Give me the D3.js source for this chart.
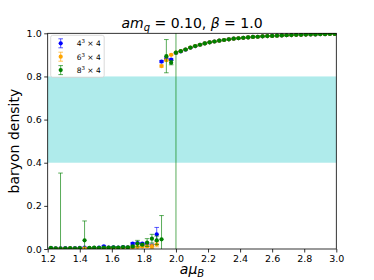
<!DOCTYPE html>
<html>
<head>
<meta charset="utf-8">
<script src="https://cdn.jsdelivr.net/npm/d3@7"></script>
<style>
  body { margin: 0; background: #fff; }
  svg { font-family: "DejaVu Sans", sans-serif; }
</style>
</head>
<body>
<svg id="chart" width="374" height="280"></svg>
<script>
// chemical potential grid (a mu_B)
var muValues = [1.22,1.25,1.28,1.31,1.34,1.37,1.40,1.43,1.46,1.49,1.52,1.55,1.58,1.61,1.64,1.67,1.70,1.73,1.76,1.79,
    1.82,1.85,1.88,1.91,1.94,1.97,2.00,2.03,2.06,2.09,2.12,2.15,2.18,2.21,2.24,2.27,2.30,2.33,2.36,2.39,
    2.42,2.45,2.48,2.51,2.54,2.57,2.60,2.63,2.66,2.69,2.72,2.75,2.78,2.81,2.84,2.87,2.90,2.93,2.96,2.99];

// 4^3 x 4
var density4 = [0.004,0.003,0.003,0.004,0.003,0.004,0.005,0.006,0.004,0.005,0.006,0.012,0.006,0.008,0.007,0.009,0.008,0.025,0.027,0.025,
    0.024,0.016,0.068,0.869,0.882,0.878,0.909,0.916,0.924,0.933,0.940,0.947,0.953,0.958,0.962,0.966,0.969,0.972,0.975,0.977,
    0.979,0.981,0.983,0.984,0.986,0.987,0.988,0.989,0.990,0.991,0.992,0.993,0.993,0.994,0.995,0.995,0.996,0.996,0.997,0.997];
var error4 = [0.002,0.002,0.002,0.002,0.002,0.002,0.002,0.002,0.002,0.002,0.002,0.004,0.002,0.003,0.002,0.003,0.003,0.005,0.004,0.004,
    0.004,0.006,0.032,0.005,0.004,0.004,0.002,0.002,0.002,0.002,0.002,0.002,0.002,0.002,0.002,0.002,0.002,0.002,0.002,0.002,
    0.002,0.002,0.002,0.002,0.002,0.002,0.002,0.002,0.002,0.002,0.002,0.002,0.002,0.002,0.002,0.002,0.002,0.002,0.002,0.002];

// 6^3 x 4
var density6 = [0.002,0.002,0.002,0.002,0.003,0.002,0.003,0.003,0.003,0.004,0.003,0.004,0.005,0.004,0.005,0.004,0.006,0.008,0.010,0.012,
    0.013,0.012,0.022,0.848,0.875,0.900,0.910,0.917,0.925,0.934,0.941,0.947,0.953,0.958,0.962,0.966,0.969,0.972,0.975,0.977,
    0.979,0.981,0.983,0.984,0.986,0.987,0.988,0.989,0.990,0.991,0.992,0.993,0.993,0.994,0.995,0.995,0.996,0.996,0.997,0.997];
var error6 = [0.002,0.002,0.002,0.002,0.002,0.002,0.002,0.002,0.002,0.002,0.002,0.002,0.002,0.002,0.002,0.002,0.003,0.004,0.004,0.005,
    0.005,0.010,0.012,0.005,0.004,0.003,0.002,0.002,0.002,0.002,0.002,0.002,0.002,0.002,0.002,0.002,0.002,0.002,0.002,0.002,
    0.002,0.002,0.002,0.002,0.002,0.002,0.002,0.002,0.002,0.002,0.002,0.002,0.002,0.002,0.002,0.002,0.002,0.002,0.002,0.002];

// 8^3 x 4
var density8 = [0.005,0.003,0.002,0.003,0.004,0.003,0.004,0.040,0.005,0.006,0.005,0.006,0.007,0.008,0.007,0.009,0.008,0.012,0.025,0.020,
    0.030,0.048,0.040,0.045,0.894,0.864,0.910,0.917,0.925,0.934,0.941,0.947,0.953,0.958,0.962,0.966,0.969,0.972,0.975,0.977,
    0.979,0.981,0.983,0.984,0.986,0.987,0.988,0.989,0.990,0.991,0.992,0.993,0.993,0.994,0.995,0.995,0.996,0.996,0.997,0.997];
var error8 = [0.002,0.002,0.350,0.002,0.002,0.002,0.002,0.090,0.002,0.002,0.002,0.002,0.002,0.002,0.002,0.002,0.002,0.004,0.015,0.004,
    0.018,0.020,0.020,0.110,0.077,0.010,1.500,0.002,0.002,0.002,0.002,0.002,0.002,0.002,0.002,0.002,0.002,0.002,0.002,0.002,
    0.002,0.002,0.002,0.002,0.002,0.002,0.002,0.002,0.002,0.002,0.002,0.002,0.002,0.002,0.002,0.002,0.002,0.002,0.002,0.002];

var seriesLabels = ['4', '6', '8'];
var seriesColors = ['#0000ff', '#ffa500', '#008000'];
var bandRange = [0.4, 0.8];
var xTicks = [1.2,1.4,1.6,1.8,2.0,2.2,2.4,2.6,2.8,3.0];
var yTicks = [0.0,0.2,0.4,0.6,0.8,1.0];

var series = [
    {label: seriesLabels[0], color: seriesColors[0], y: density4, err: error4},
    {label: seriesLabels[1], color: seriesColors[1], y: density6, err: error6},
    {label: seriesLabels[2], color: seriesColors[2], y: density8, err: error8}
];

var svg = d3.select('#chart');
var plot = {left: 47.7, right: 336.3, top: 33.3, bottom: 249};

var x = d3.scaleLinear().domain([1.2, 3.0]).range([plot.left, plot.right]);
var y = d3.scaleLinear().domain([0, 1]).range([plot.bottom, plot.top]);

svg.append('defs').append('clipPath').attr('id', 'clip')
    .append('rect')
    .attr('x', plot.left).attr('y', plot.top)
    .attr('width', plot.right - plot.left).attr('height', plot.bottom - plot.top);

// shaded band
svg.append('rect')
    .attr('x', plot.left)
    .attr('y', y(bandRange[1]))
    .attr('width', plot.right - plot.left)
    .attr('height', y(bandRange[0]) - y(bandRange[1]))
    .attr('fill', '#afebeb');

var data = svg.append('g').attr('clip-path', 'url(#clip)');
var cap = 2.3;

series.forEach(function(s) {
    var pts = muValues.map(function(m, i) { return {x: m, y: s.y[i], e: s.err[i]}; });
    var g = data.append('g');
    var bars = g.selectAll('.err').data(pts).enter().append('g')
        .attr('stroke', s.color)
        .attr('stroke-opacity', 0.65)
        .attr('stroke-width', 1);
    bars.append('line')
        .attr('x1', function(d) { return x(d.x); })
        .attr('x2', function(d) { return x(d.x); })
        .attr('y1', function(d) { return y(d.y - d.e); })
        .attr('y2', function(d) { return y(d.y + d.e); });
    bars.append('line')
        .attr('x1', function(d) { return x(d.x) - cap; })
        .attr('x2', function(d) { return x(d.x) + cap; })
        .attr('y1', function(d) { return y(d.y + d.e); })
        .attr('y2', function(d) { return y(d.y + d.e); });
    bars.append('line')
        .attr('x1', function(d) { return x(d.x) - cap; })
        .attr('x2', function(d) { return x(d.x) + cap; })
        .attr('y1', function(d) { return y(d.y - d.e); })
        .attr('y2', function(d) { return y(d.y - d.e); });
    g.selectAll('circle').data(pts).enter().append('circle')
        .attr('cx', function(d) { return x(d.x); })
        .attr('cy', function(d) { return y(d.y); })
        .attr('r', 2.1)
        .attr('fill', s.color);
});

// axes
var xAxis = svg.append('g')
    .attr('transform', 'translate(0,' + plot.bottom + ')')
    .call(d3.axisBottom(x).tickValues(xTicks).tickFormat(d3.format('.1f')).tickSize(3.5).tickPadding(2.5));
var yAxis = svg.append('g')
    .attr('transform', 'translate(' + plot.left + ',0)')
    .call(d3.axisLeft(y).tickValues(yTicks).tickFormat(d3.format('.1f')).tickSize(3.5).tickPadding(2.5));
[xAxis, yAxis].forEach(function(a) {
    a.select('.domain').remove();
    a.selectAll('text').attr('font-size', '9.5px').attr('fill', '#000').attr('font-family', 'DejaVu Sans');
    a.selectAll('line').attr('stroke', '#000').attr('stroke-width', 0.8);
});

svg.append('rect')
    .attr('x', plot.left).attr('y', plot.top)
    .attr('width', plot.right - plot.left).attr('height', plot.bottom - plot.top)
    .attr('fill', 'none').attr('stroke', '#000').attr('stroke-width', 0.8);

// title
var title = svg.append('text')
    .attr('x', (plot.left + plot.right) / 2).attr('y', 28)
    .attr('text-anchor', 'middle').attr('font-size', '14px');
title.append('tspan').attr('font-style', 'italic').text('am');
title.append('tspan').attr('font-style', 'italic').attr('font-size', '10px').attr('dy', 3).text('q');
title.append('tspan').attr('dy', -3).text(' = 0.10, ');
title.append('tspan').attr('font-style', 'italic').text('β');
title.append('tspan').text(' = 1.0');

// x label
var xl = svg.append('text')
    .attr('x', (plot.left + plot.right) / 2).attr('y', 274)
    .attr('text-anchor', 'middle').attr('font-size', '14px');
xl.append('tspan').attr('font-style', 'italic').text('aμ');
xl.append('tspan').attr('font-style', 'italic').attr('font-size', '10px').attr('dy', 3).text('B');

// y label
svg.append('text')
    .attr('transform', 'translate(19,' + (plot.top + plot.bottom) / 2 + ') rotate(-90)')
    .attr('text-anchor', 'middle').attr('font-size', '14px')
    .text('baryon density');

// legend
var legend = svg.append('g').attr('transform', 'translate(50.7,35.3)');
legend.append('rect')
    .attr('width', 53.5).attr('height', 42).attr('rx', 2)
    .attr('fill', '#fff').attr('fill-opacity', 0.8)
    .attr('stroke', '#d0d0d0').attr('stroke-width', 0.8);
series.forEach(function(s, i) {
    var row = legend.append('g').attr('transform', 'translate(10,' + (8 + i * 13.4) + ')');
    var eg = row.append('g').attr('stroke', s.color).attr('stroke-opacity', 0.65);
    eg.append('line').attr('x1', 0).attr('x2', 0).attr('y1', -4.5).attr('y2', 4.5);
    eg.append('line').attr('x1', -cap).attr('x2', cap).attr('y1', -4.5).attr('y2', -4.5);
    eg.append('line').attr('x1', -cap).attr('x2', cap).attr('y1', 4.5).attr('y2', 4.5);
    row.append('circle').attr('r', 2.1).attr('fill', s.color);
    var t = row.append('text').attr('x', 16).attr('y', 3).attr('font-size', '7.5px');
    t.append('tspan').text(s.label);
    t.append('tspan').attr('font-size', '5.5px').attr('dy', -3).text('3');
    t.append('tspan').attr('dy', 3).text(' × 4');
});
</script>
</body>
</html>
